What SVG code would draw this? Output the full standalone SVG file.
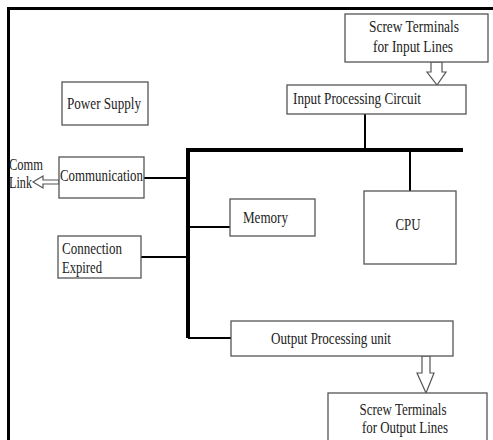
<svg xmlns="http://www.w3.org/2000/svg" width="493" height="440" viewBox="0 0 493 440">
<style>
.box{fill:#fff;stroke:#555;stroke-width:1.3}
.t{font-family:"Liberation Serif","Times New Roman",serif;font-size:16px;fill:#222}
.c{text-anchor:middle}
.ln{stroke:#000;stroke-width:2;fill:none}
.bus{stroke:#000;stroke-width:4;fill:none}
.arr{fill:#fff;stroke:#555;stroke-width:1.2}
.frame{stroke:#000;stroke-width:3;fill:none}
</style>
<rect width="493" height="440" fill="#fff"/>
<path class="frame" d="M8.5,440 V8.5 H493"/>
<g id="connectors">
<path class="bus" d="M188,150 H463"/>
<path class="bus" d="M188,148 V338"/>
<path class="ln" d="M144,178 H188"/>
<path class="ln" d="M141,257 H188"/>
<path class="ln" d="M188,227 H230"/>
<path class="ln" d="M188,338 H231"/>
<path class="ln" d="M365,114 V150"/>
<path class="ln" d="M410,150 V191"/>
<path class="arr" d="M431,62 V72 H427 L437,85 L446,72 H442 V62 Z"/>
<path class="arr" d="M422,356 V373 H417 L426,393 L434,373 H430 V356 Z"/>
<path class="arr" d="M59,180 H43 V176 L33,182 L43,188 V184 H59 Z"/>
</g>
<g id="screw-input">
<rect class="box" x="345" y="14" width="143" height="48"/>
<text class="t c" x="414" y="32" textLength="90" lengthAdjust="spacingAndGlyphs">Screw Terminals</text>
<text class="t c" x="413" y="52" textLength="80" lengthAdjust="spacingAndGlyphs">for Input Lines</text>
</g>
<g id="input-processing">
<rect class="box" x="287" y="85" width="179" height="29"/>
<text class="t" x="293" y="104" textLength="128" lengthAdjust="spacingAndGlyphs">Input Processing Circuit</text>
</g>
<g id="power-supply">
<rect class="box" x="62" y="82" width="86" height="43"/>
<text class="t" x="67" y="109" textLength="74" lengthAdjust="spacingAndGlyphs">Power Supply</text>
</g>
<g id="communication">
<rect class="box" x="59" y="157" width="85" height="41"/>
<text class="t" x="60" y="181" textLength="83" lengthAdjust="spacingAndGlyphs">Communication</text>
</g>
<g id="comm-link">
<text class="t" x="9" y="170" textLength="34" lengthAdjust="spacingAndGlyphs">Comm</text>
<text class="t" x="9" y="188" textLength="23" lengthAdjust="spacingAndGlyphs">Link</text>
</g>
<g id="memory">
<rect class="box" x="230" y="199" width="85" height="37"/>
<text class="t" x="243" y="223" textLength="45" lengthAdjust="spacingAndGlyphs">Memory</text>
</g>
<g id="cpu">
<rect class="box" x="364" y="191" width="92" height="73"/>
<text class="t c" x="408" y="230" textLength="25" lengthAdjust="spacingAndGlyphs">CPU</text>
</g>
<g id="connection-expired">
<rect class="box" x="58" y="236" width="83" height="42"/>
<text class="t" x="62" y="254" textLength="60" lengthAdjust="spacingAndGlyphs">Connection</text>
<text class="t" x="62" y="273" textLength="40" lengthAdjust="spacingAndGlyphs">Expired</text>
</g>
<g id="output-processing">
<rect class="box" x="231" y="321" width="222" height="35"/>
<text class="t c" x="331" y="344" textLength="120" lengthAdjust="spacingAndGlyphs">Output Processing unit</text>
</g>
<g id="screw-output">
<rect class="box" x="328" y="393" width="159" height="60"/>
<text class="t c" x="403" y="415" textLength="87" lengthAdjust="spacingAndGlyphs">Screw Terminals</text>
<text class="t c" x="405" y="433" textLength="86" lengthAdjust="spacingAndGlyphs">for Output Lines</text>
</g>
</svg>
